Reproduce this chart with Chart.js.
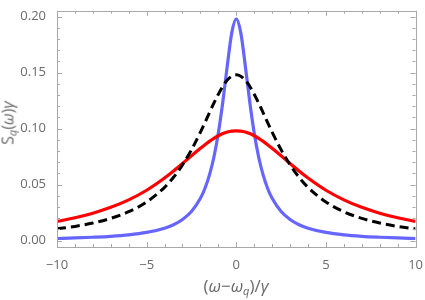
<!DOCTYPE html>
<html>
<head>
<meta charset="utf-8">
<script src="https://cdn.jsdelivr.net/npm/chart.js@4.4.1/dist/chart.umd.min.js"></script>
<style>
  body { margin: 0; background: #fff; }
  #wrap { position: relative; width: 425px; height: 300px; }
  .ttl { position: absolute; color: #6a6a6a; font-family: "Open Sans", "DejaVu Sans", sans-serif; font-size: 17px; line-height: 17px; white-space: nowrap; }
  .ttl sub { font-size: 11px; line-height: 0; vertical-align: -3px; }
  #xTitle { left: 236px; top: 277px; transform: translateX(-50%); }
  #yTitle { left: 8px; top: 123px; font-size: 16px; transform: translate(-50%, -50%) rotate(-90deg); }
</style>
</head>
<body>
<div id="wrap">
  <canvas id="lineChart" width="425" height="300"></canvas>
  <div class="ttl" id="xTitle">(<i>ω</i>−<i>ω</i><sub><i>q</i></sub>)/<i>γ</i></div>
  <div class="ttl" id="yTitle">S<sub><i>q</i></sub>(<i>ω</i>)<i>γ</i></div>
</div>
<script>
const lineChart = document.getElementById('lineChart');

// detuning points
const detuning = [-10, -9, -8, -7, -6, -5, -4, -3.5, -3, -2.5, -2, -1.75, -1.5, -1.25, -1, -0.75, -0.5, -0.25, 0,
                  0.25, 0.5, 0.75, 1, 1.25, 1.5, 1.75, 2, 2.5, 3, 3.5, 4, 5, 6, 7, 8, 9, 10];

const blueHalf  = [0.0018, 0.0023, 0.0029, 0.0037, 0.0050, 0.0072, 0.0110, 0.0141, 0.0188, 0.0259, 0.0377, 0.0465, 0.0584, 0.0744, 0.0960, 0.1239, 0.1564, 0.1857, 0.198];
const blackHalf = [0.0104, 0.0126, 0.0156, 0.0198, 0.0257, 0.0344, 0.0475, 0.0565, 0.0676, 0.0810, 0.0968, 0.1053, 0.1141, 0.1227, 0.1307, 0.1378, 0.1433, 0.1468, 0.148];
const redHalf   = [0.0171, 0.0203, 0.0244, 0.0296, 0.0363, 0.0449, 0.0558, 0.0621, 0.0688, 0.0757, 0.0824, 0.0856, 0.0886, 0.0913, 0.0936, 0.0955, 0.0969, 0.0977, 0.098];

// curves are symmetric about zero, mirror the left half
const blueVals  = blueHalf.concat(blueHalf.slice(0, -1).reverse());
const blackVals = blackHalf.concat(blackHalf.slice(0, -1).reverse());
const redVals   = redHalf.concat(redHalf.slice(0, -1).reverse());

const xTicks = [-10, -5, 0, 5, 10];
const yTicks = [0, 0.05, 0.10, 0.15, 0.20];

const toPts = (vals) => detuning.map((x, i) => ({ x: x, y: vals[i] }));

// mathematica style frame with inward ticks
const framePlugin = {
  id: 'frame',
  afterDatasetsDraw(chart) {
    const c = chart.ctx;
    const a = chart.chartArea;
    const xs = chart.scales.x, ys = chart.scales.y;
    c.save();
    c.strokeStyle = '#a8a8a8';
    c.lineWidth = 1;
    c.strokeRect(Math.round(a.left) + 0.5, Math.round(a.top) + 0.5, Math.round(a.right - a.left), Math.round(a.bottom - a.top));
    c.beginPath();
    for (let i = -10; i <= 10; i++) {
      const px = Math.round(xs.getPixelForValue(i)) + 0.5;
      const len = i % 5 === 0 ? 5 : 3;
      c.moveTo(px, a.bottom); c.lineTo(px, a.bottom - len);
      c.moveTo(px, a.top); c.lineTo(px, a.top + len);
    }
    for (let j = 0; j <= 20; j++) {
      const py = Math.round(ys.getPixelForValue(j / 100)) + 0.5;
      const len = j % 5 === 0 ? 5 : 3;
      c.moveTo(a.left, py); c.lineTo(a.left + len, py);
      c.moveTo(a.right, py); c.lineTo(a.right - len, py);
    }
    c.stroke();
    c.restore();
  }
};

new Chart(lineChart, {
  type: 'line',
  data: {
    datasets: [
      {
        label: 'black',
        data: toPts(blackVals),
        borderColor: '#000000',
        borderWidth: 3,
        borderDash: [9, 5],
        order: 0
      },
      {
        label: 'red',
        data: toPts(redVals),
        borderColor: '#ff0000',
        borderWidth: 3.2,
        order: 1
      },
      {
        label: 'blue',
        data: toPts(blueVals),
        borderColor: '#6666ff',
        borderWidth: 3.2,
        order: 2
      }
    ]
  },
  options: {
    responsive: false,
    animation: false,
    devicePixelRatio: 1,
    layout: { padding: { top: 3, right: 9, left: 0, bottom: 0 } },
    elements: {
      point: { radius: 0 },
      line: { cubicInterpolationMode: 'monotone', fill: false }
    },
    plugins: {
      legend: { display: false },
      tooltip: { enabled: false }
    },
    scales: {
      x: {
        type: 'linear',
        min: -10,
        max: 10,
        grid: { display: false },
        border: { display: false },
        afterBuildTicks: (s) => { s.ticks = xTicks.map(v => ({ value: v })); },
        afterFit: (s) => { s.height = 53; },
        ticks: {
          color: '#6a6a6a',
          padding: 2,
          maxRotation: 0,
          font: { family: 'Open Sans', size: 13 },
          callback: (v) => String(v).replace('-', '\u2212')
        }
      },
      y: {
        min: -0.0058,
        max: 0.2052,
        grid: { display: false },
        border: { display: false },
        afterBuildTicks: (s) => { s.ticks = yTicks.map(v => ({ value: v })); },
        afterFit: (s) => { s.width = 57; },
        ticks: {
          color: '#6a6a6a',
          padding: 3,
          font: { family: 'Open Sans', size: 13 },
          callback: (v) => v.toFixed(2)
        }
      }
    }
  },
  plugins: [framePlugin]
});
</script>
</body>
</html>
